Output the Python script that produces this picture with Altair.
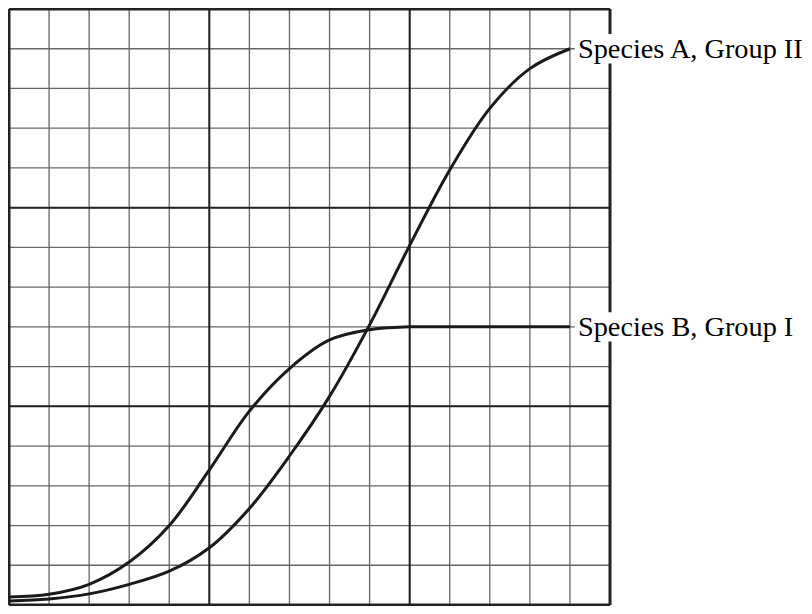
import altair as alt
import pandas as pd

# grid positions (in grid units)
grid_minor = list(range(16))
grid_major = [0, 5, 10, 15]

# Species A, Group II
a_x = [0, 1, 2, 3, 4, 5, 6, 7, 8, 9, 10, 11, 12, 13, 14]
a_y = [0.1, 0.15, 0.28, 0.52, 0.85, 1.44, 2.43, 3.75, 5.25, 7.05, 9.05, 10.95, 12.5, 13.5, 14.0]

# Species B, Group I
b_x = [0, 1, 2, 3, 4, 5, 6, 7, 8, 9, 10, 11, 12, 13, 14]
b_y = [0.2, 0.27, 0.52, 1.08, 2.0, 3.4, 4.88, 5.95, 6.67, 6.93, 7.0, 7.0, 7.0, 7.0, 7.0]

labels = ["Species A, Group II", "Species B, Group I"]
label_x = [14.2, 14.2]
label_y = [14, 7]

# layout
PLOT_W = 795          # whole drawing width (grid + label room)
PLOT_H = 596
UNIT_X = 601 / 15     # pixels per grid unit horizontally
x_max = PLOT_W / UNIT_X

curves = pd.concat([
    pd.DataFrame({"x": a_x, "y": a_y, "s": "A"}),
    pd.DataFrame({"x": b_x, "y": b_y, "s": "B"}),
])
lab = pd.DataFrame({"label": labels, "x": label_x, "y": label_y})
lab["x1"] = lab["x"] - 0.08
lab["x2"] = x_max
lab["y1"] = lab["y"] - 0.37
lab["y2"] = lab["y"] + 0.37

xs = alt.Scale(domain=[0, x_max], nice=False, zero=False)
ys = alt.Scale(domain=[0, 15], nice=False, zero=False)


def vrules(vals, color, w):
    return alt.Chart(pd.DataFrame({"v": vals})).mark_rule(color=color, strokeWidth=w).encode(
        x=alt.X("v:Q", scale=xs, axis=None))


def hrules(vals, color, w):
    df = pd.DataFrame({"v": vals, "a": grid_major[0], "b": grid_major[-1]})
    return alt.Chart(df).mark_rule(color=color, strokeWidth=w).encode(
        y=alt.Y("v:Q", scale=ys, axis=None),
        x=alt.X("a:Q", scale=xs, axis=None), x2="b:Q")


minor_v = vrules(grid_minor, "#666", 1.3)
minor_h = hrules(grid_minor, "#666", 1.3)
major_v = vrules(grid_major[1:-1], "#222", 2)
major_h = hrules(grid_major[1:-1], "#222", 2)
border_v = vrules([grid_major[0], grid_major[-1]], "#222", 3)
border_h = hrules([grid_major[0], grid_major[-1]], "#222", 3)

lines = alt.Chart(curves).mark_line(color="#1a1a1a", strokeWidth=3, interpolate="catmull-rom").encode(
    x=alt.X("x:Q", scale=xs, axis=None),
    y=alt.Y("y:Q", scale=ys, axis=None),
    detail="s:N",
)

boxes = alt.Chart(lab).mark_rect(color="white").encode(
    x=alt.X("x1:Q", scale=xs, axis=None), x2="x2:Q",
    y=alt.Y("y1:Q", scale=ys, axis=None), y2="y2:Q",
)

texts = alt.Chart(lab).mark_text(align="left", baseline="middle", font="Liberation Serif",
                                 fontSize=28.3, color="black", dy=1).encode(
    x=alt.X("x:Q", scale=xs, axis=None),
    y=alt.Y("y:Q", scale=ys, axis=None),
    text="label:N",
)

chart = alt.layer(minor_v, minor_h, major_v, major_h, border_v, border_h, lines, boxes, texts).properties(
    width=PLOT_W, height=PLOT_H,
    autosize=alt.AutoSizeParams(type="none"),
    padding={"left": 1, "top": 1, "right": 0, "bottom": 1},
).configure_view(stroke=None)

chart.save("out.html", embed_options={"renderer": "svg", "actions": False})
